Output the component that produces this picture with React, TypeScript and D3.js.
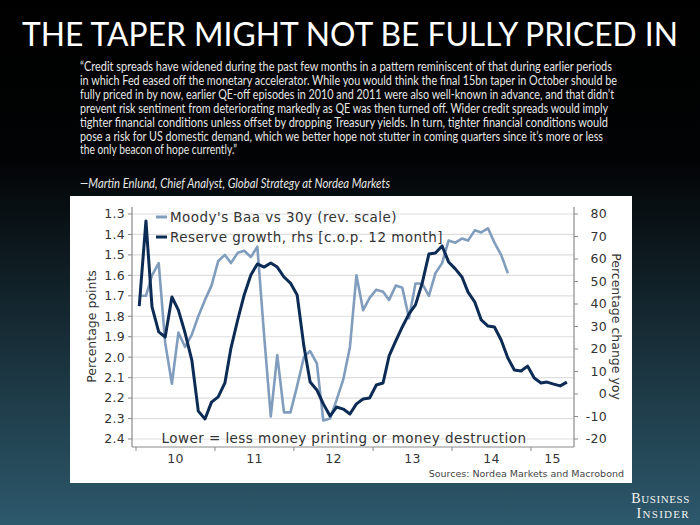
import React from "react";
import * as d3 from "d3";

const months = [
  "2010-01","2010-02","2010-03","2010-04","2010-05","2010-06","2010-07","2010-08","2010-09","2010-10","2010-11","2010-12",
  "2011-01","2011-02","2011-03","2011-04","2011-05","2011-06","2011-07","2011-08","2011-09","2011-10","2011-11","2011-12",
  "2012-01","2012-02","2012-03","2012-04","2012-05","2012-06","2012-07","2012-08","2012-09","2012-10","2012-11","2012-12",
  "2013-01","2013-02","2013-03","2013-04","2013-05","2013-06","2013-07","2013-08","2013-09","2013-10","2013-11","2013-12",
  "2014-01","2014-02","2014-03","2014-04","2014-05","2014-06","2014-07","2014-08","2014-09","2014-10","2014-11","2014-12",
  "2015-01","2015-02","2015-03","2015-04","2015-05","2015-06",
];

// Moody's Baa vs 30y spread (percentage points, reversed scale, left axis)
const moodys = [
  1.70, 1.70, 1.60, 1.54, 1.93, 2.13, 1.88, 1.95, 1.89, 1.80, 1.72, 1.65,
  1.53, 1.50, 1.54, 1.49, 1.48, 1.51, 1.46, 1.89, 2.29, 1.99, 2.27, 2.27,
  2.14, 2.00, 1.97, 2.03, 2.31, 2.30, 2.21, 2.11, 1.95, 1.60, 1.77, 1.71,
  1.67, 1.68, 1.72, 1.65, 1.66, 1.81, 1.64, 1.64, 1.70, 1.59, 1.54, 1.43,
  1.44, 1.42, 1.43, 1.38, 1.39, 1.37, 1.44, 1.50, 1.59,
];

// Reserve growth, % change yoy (right axis)
const reserves = [
  39.1, 76.9, 38.7, 27.6, 25.3, 43.1, 37.3, 27.1, 15.1, -7.6, -11.1, -3.6,
  -1.3, 4.9, 20.4, 32.9, 44.0, 52.9, 57.8, 56.4, 58.2, 56.4, 52.0, 49.3,
  44.0, 21.3, 5.3, 1.8, -4.4, -9.8, -5.8, -6.7, -8.9, -4.4, -2.2, -1.8,
  4.0, 4.9, 16.9, 23.6, 29.8, 35.6, 39.6, 49.3, 62.2, 62.7, 65.8, 58.7,
  55.6, 52.0, 45.3, 40.9, 32.9, 30.2, 29.8, 24.0, 16.0, 10.7, 10.2, 12.4,
  7.1, 4.9, 5.3, 4.4, 3.6, 5.3,
];

const leftTicks = [1.3, 1.4, 1.5, 1.6, 1.7, 1.8, 1.9, 2.0, 2.1, 2.2, 2.3, 2.4];
const rightTicks = [80, 70, 60, 50, 40, 30, 20, 10, 0, -10, -20];
const years = [2010, 2011, 2012, 2013, 2014, 2015];
const yearLabels = ["10", "11", "12", "13", "14", "15"];

const title = "THE TAPER MIGHT NOT BE FULLY PRICED IN";
const quoteLines = [
  "\u201CCredit spreads have widened during the past few months in a pattern reminiscent of that during earlier periods",
  "in which Fed eased off the monetary accelerator. While you would think the final 15bn taper in October should be",
  "fully priced in by now, earlier QE-off episodes in 2010 and 2011 were also well-known in advance, and that didn\u2019t",
  "prevent risk sentiment from deteriorating markedly as QE was then turned off. Wider credit spreads would imply",
  "tighter financial conditions unless offset by dropping Treasury yields. In turn, tighter financial conditions would",
  "pose a risk for US domestic demand, which we better hope not stutter in coming quarters since it\u2019s more or less",
  "the only beacon of hope currently.\u201D",
];
const quoteEnds = [612, 617, 614, 608, 608, 603, 237];
const attribution = "\u2014Martin Enlund, Chief Analyst, Global Strategy at Nordea Markets";
const legendLabels = ["Moody's Baa vs 30y (rev. scale)", "Reserve growth, rhs [c.o.p. 12 month]"];
const note = "Lower = less money printing or money destruction";
const source = "Sources: Nordea Markets and Macrobond";

const LIGHT = "#809dbd";
const DARK = "#0c2b55";
const CF = "'DejaVu Sans', Verdana, sans-serif";
const QF = "Lato, 'Open Sans', sans-serif";
const SERIF = "'Liberation Serif', 'DejaVu Serif', serif";

export default function App() {
  const parse = (s: string) => {
    const [y, m] = s.split("-").map(Number);
    return new Date(y, m - 1, 16);
  };
  const plotL = 132, plotR = 574, plotT = 207, plotB = 447;
  const x = d3.scaleTime().domain([new Date(2010, 0, 1), new Date(2015, 0, 1)]).range([136, 531]);
  const yL = d3.scaleLinear().domain([1.3, 2.4]).range([214, 439]);
  const yR = d3.scaleLinear().domain([80, -20]).range([214, 439]);

  const lineL = d3.line<number>().x((_, i) => x(parse(months[i]))).y((d) => yL(d));
  const lineR = d3.line<number>().x((_, i) => x(parse(months[i]))).y((d) => yR(d));

  return (
    <svg width={700} height={525} style={{ position: "absolute", left: 0, top: 0, display: "block" }}>
      <defs>
        <linearGradient id="bg" x1="0" y1="0" x2="0" y2="1">
          <stop offset="0" stopColor="#000000" />
          <stop offset="0.3" stopColor="#020304" />
          <stop offset="1" stopColor="#2d596c" />
        </linearGradient>
      </defs>
      <rect x={0} y={0} width={700} height={525} fill="url(#bg)" />
      <text x={22} y={46} fill="#ffffff" fontFamily={QF} fontWeight={400} fontSize={32}
        textLength={656} lengthAdjust="spacingAndGlyphs">{title}</text>
      {quoteLines.map((l, i) => (
        <text key={i} x={80} y={71 + i * 13.9} fill="#e6e6e6" fontFamily={QF} fontSize={12.5}
          textLength={quoteEnds[i] - 80} lengthAdjust="spacingAndGlyphs">{l}</text>
      ))}
      <text x={80} y={188} fill="#e6e6e6" fontFamily={QF} fontSize={12.5} fontStyle="italic"
        textLength={310} lengthAdjust="spacingAndGlyphs">{attribution}</text>

      <rect x={70} y={196} width={562} height={287} fill="#ffffff" />

      {leftTicks.map((t) => (
        <line key={t} x1={plotL} x2={plotR} y1={yL(t)} y2={yL(t)} stroke="#dedede" strokeWidth={1.2} />
      ))}

      <line x1={plotL} x2={plotL} y1={plotT} y2={plotB} stroke="#8a8a8a" strokeWidth={1.2} />
      <line x1={plotR} x2={plotR} y1={plotT} y2={plotB} stroke="#8a8a8a" strokeWidth={1.2} />
      <line x1={plotL} x2={plotR} y1={plotB} y2={plotB} stroke="#8a8a8a" strokeWidth={1.2} />
      {leftTicks.map((t) => (
        <g key={t}>
          <line x1={plotL - 4} x2={plotL} y1={yL(t)} y2={yL(t)} stroke="#8a8a8a" />
          <text x={plotL - 7} y={yL(t)} dy="0.35em" textAnchor="end" fontFamily={CF} fontSize={12.5} letterSpacing={0.3} fill="#333">{t.toFixed(1)}</text>
        </g>
      ))}
      {rightTicks.map((t) => (
        <g key={t}>
          <line x1={plotR} x2={plotR + 4} y1={yR(t)} y2={yR(t)} stroke="#8a8a8a" />
          <text x={plotR + 33} y={yR(t)} dy="0.35em" textAnchor="end" fontFamily={CF} fontSize={12.5} letterSpacing={0.3} fill="#333">{t}</text>
        </g>
      ))}
      {years.map((yr, i) => {
        const a = Math.max(plotL, x(new Date(yr, 0, 1)));
        const b = Math.min(plotR, x(new Date(yr + 1, 0, 1)));
        return (
          <g key={yr}>
            <line x1={x(new Date(yr, 0, 1))} x2={x(new Date(yr, 0, 1))} y1={plotB} y2={plotB + 4} stroke="#8a8a8a" />
            <text x={(a + b) / 2} y={463} textAnchor="middle" fontFamily={CF} fontSize={12.5} letterSpacing={0.3} fill="#333">{yearLabels[i]}</text>
          </g>
        );
      })}
      <text transform={`translate(96,${yL(1.85)}) rotate(-90)`} textAnchor="middle" fontFamily={CF} fontSize={12.5} fill="#333">Percentage points</text>
      <text transform={`translate(612,${yL(1.85)}) rotate(90)`} textAnchor="middle" fontFamily={CF} fontSize={12.5} fill="#333">Percentage change yoy</text>

      <path d={lineL(moodys) || ""} fill="none" stroke={LIGHT} strokeWidth={2.6} strokeLinejoin="round" />
      <path d={lineR(reserves) || ""} fill="none" stroke={DARK} strokeWidth={3} strokeLinejoin="round" />

      <line x1={156} x2={167} y1={217} y2={217} stroke={LIGHT} strokeWidth={3} />
      <text x={170} y={217} dy="0.35em" fontFamily={CF} fontSize={13.5} letterSpacing={0.45} fill="#333">{legendLabels[0]}</text>
      <line x1={156} x2={167} y1={237} y2={237} stroke={DARK} strokeWidth={3} />
      <text x={170} y={237} dy="0.35em" fontFamily={CF} fontSize={13.5} letterSpacing={0.45} fill="#333">{legendLabels[1]}</text>

      <text x={344} y={438} dy="0.35em" textAnchor="middle" fontFamily={CF} fontSize={13.5} letterSpacing={0.45} fill="#333">{note}</text>
      <text x={624} y={477} textAnchor="end" fontFamily={CF} fontSize={9.5} fill="#444">{source}</text>

      <text x={690} y={503} textAnchor="end" fill="#f2f2f2" fontFamily={SERIF} fontSize={11} letterSpacing={0.6}>
        <tspan fontSize={14}>B</tspan>USINESS
      </text>
      <text x={690} y={518} textAnchor="end" fill="#f2f2f2" fontFamily={SERIF} fontSize={11} letterSpacing={1.3}>
        <tspan fontSize={14}>I</tspan>NSIDER
      </text>
    </svg>
  );
}
